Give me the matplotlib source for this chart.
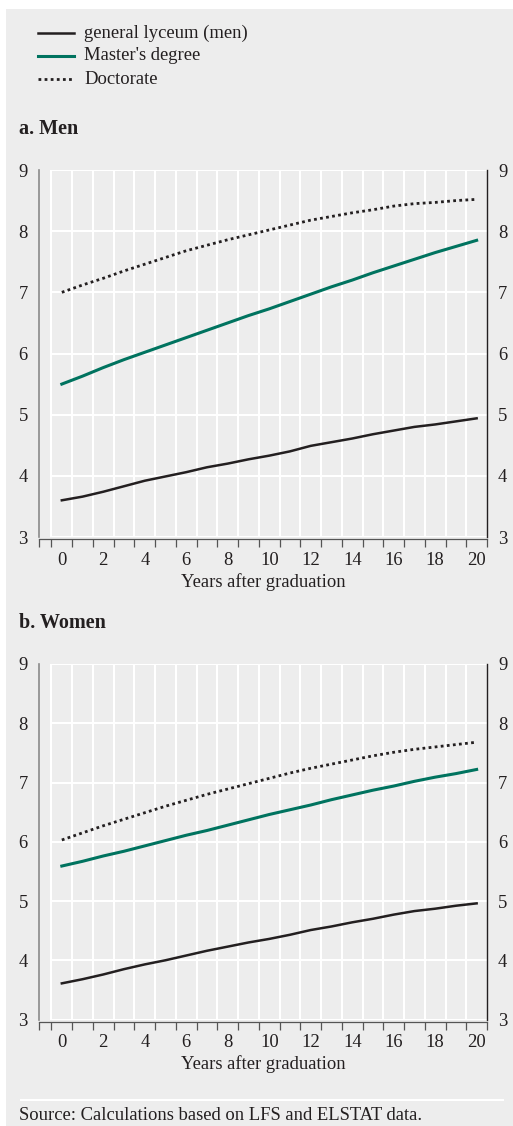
import matplotlib
matplotlib.use("Agg")
import matplotlib.pyplot as plt
from matplotlib.patches import Rectangle
from matplotlib.lines import Line2D
import numpy as np

plt.rcParams['font.family'] = ['Liberation Serif', 'DejaVu Serif']

years = list(range(0, 21))

men_lyceum = [3.60, 3.66, 3.74, 3.83, 3.92, 3.99, 4.06, 4.14, 4.20, 4.27, 4.33,
              4.40, 4.49, 4.55, 4.61, 4.68, 4.74, 4.80, 4.84, 4.89, 4.94]
men_master = [5.50, 5.63, 5.77, 5.90, 6.02, 6.14, 6.26, 6.38, 6.50, 6.62, 6.73,
              6.85, 6.97, 7.09, 7.20, 7.32, 7.43, 7.54, 7.65, 7.75, 7.85]
men_doctor = [7.00, 7.12, 7.23, 7.35, 7.46, 7.57, 7.68, 7.77, 7.86, 7.94, 8.02,
              8.10, 8.18, 8.24, 8.30, 8.35, 8.41, 8.45, 8.47, 8.50, 8.52]

women_lyceum = [3.61, 3.68, 3.76, 3.85, 3.93, 4.00, 4.08, 4.16, 4.23, 4.30, 4.36,
                4.43, 4.51, 4.57, 4.64, 4.70, 4.77, 4.83, 4.87, 4.92, 4.96]
women_master = [5.59, 5.67, 5.76, 5.84, 5.93, 6.02, 6.11, 6.19, 6.28, 6.37, 6.46,
                6.54, 6.62, 6.71, 6.79, 6.87, 6.94, 7.02, 7.09, 7.15, 7.22]
women_doctor = [6.03, 6.15, 6.27, 6.38, 6.49, 6.60, 6.70, 6.80, 6.89, 6.98, 7.07,
                7.16, 7.24, 7.31, 7.38, 7.45, 7.51, 7.56, 7.60, 7.64, 7.68]

series_labels = ["general lyceum (men)", "Master's degree", "Doctorate"]
panel_titles = ["a. Men", "b. Women"]
y_ticks = [3, 4, 5, 6, 7, 8, 9]
x_ticks = list(range(0, 21, 2))
x_label = "Years after graduation"
source = "Source: Calculations based on LFS and ELSTAT data."

W, H = 513, 1126
fig = plt.figure(figsize=(W / 100, H / 100), dpi=100)
fig.patch.set_facecolor("white")

BG = "#ededed"
TEAL = "#00735f"
BLACK = "#231f20"
TXT = "#231f20"
FS = 13.4

fig.patches.append(Rectangle((6 / W, 0), 1 - 6 / W, (H - 9) / H,
                             transform=fig.transFigure, facecolor=BG,
                             edgecolor="none", zorder=-10))

def fx(px):
    return px / W

def fy(py):
    return 1 - py / H

# legend
styles = [dict(color=BLACK, lw=1.8, ls="-"),
          dict(color=TEAL, lw=2.2, ls="-"),
          dict(color=BLACK, lw=2.0, ls=(0, (1, 1.2)))]
for i, (lab, st) in enumerate(zip(series_labels, styles)):
    y = 33 + 23 * i
    fig.add_artist(Line2D([fx(38), fx(74)], [fy(y), fy(y)], transform=fig.transFigure,
                          **st))
    fig.text(fx(84), fy(y), lab, fontsize=FS, va="center", ha="left", color=TXT)

def panel(rect, title, title_y, data):
    ax = fig.add_axes(rect)
    ax.set_facecolor("none")
    ax.set_xlim(-1.1, 20.5)
    ax.set_ylim(3, 9)
    # grid
    for yv in y_ticks:
        ax.plot([-0.5, 20.5], [yv, yv], color="white", lw=1.5, zorder=1,
                solid_capstyle="butt")
    for xv in np.arange(-0.5, 20.0, 1.0):
        ax.plot([xv, xv], [3, 9], color="white", lw=1.5, zorder=1,
                solid_capstyle="butt")
    lyc, mas, doc = data
    ax.plot(years, lyc, zorder=3, **styles[0])
    ax.plot(years, mas, zorder=3, **styles[1])
    ax.plot(years, doc, zorder=3, **styles[2])

    ax.spines["top"].set_visible(False)
    ax.spines["left"].set_color("#8a8a8a")
    ax.spines["left"].set_linewidth(1.2)
    ax.spines["right"].set_color(BLACK)
    ax.spines["right"].set_linewidth(1.0)
    ax.spines["bottom"].set_color("#555555")
    ax.spines["bottom"].set_linewidth(0.9)
    ax.spines["bottom"].set_position(("outward", 1.5))

    ax.set_yticks(y_ticks)
    ax.set_yticklabels([str(v) for v in y_ticks])
    ax.tick_params(axis="y", length=0, labelsize=FS, labelcolor=TXT,
                   labelleft=True, labelright=True, pad=8)
    ax.set_xticks(x_ticks)
    ax.set_xticklabels([str(v) for v in x_ticks])
    ax.tick_params(axis="x", which="major", length=0, labelsize=FS,
                   labelcolor=TXT, pad=9)
    ax.set_xticks(list(np.arange(-0.5, 20.6, 1.0)) + [-1.1], minor=True)
    ax.tick_params(axis="x", which="minor", length=6, width=0.9,
                   color="#555555", direction="out")
    ax.set_xlabel(x_label, fontsize=FS, color=TXT, labelpad=3)
    fig.text(fx(19), fy(title_y), title, fontsize=14.5, fontweight="bold",
             va="center", ha="left", color=TXT)
    return ax

panel([fx(39), fy(537), 448 / W, 367 / H], panel_titles[0], 129,
      (men_lyceum, men_master, men_doctor))
panel([fx(39), fy(1019.5), 448 / W, 355.5 / H], panel_titles[1], 623,
      (women_lyceum, women_master, women_doctor))

fig.add_artist(Line2D([fx(21), fx(503)], [fy(1100), fy(1100)],
                      transform=fig.transFigure, color="white", lw=1.5))
fig.text(fx(19), fy(1116), source, fontsize=FS, va="center", ha="left", color=TXT)

fig.savefig("out.png", dpi=100)
